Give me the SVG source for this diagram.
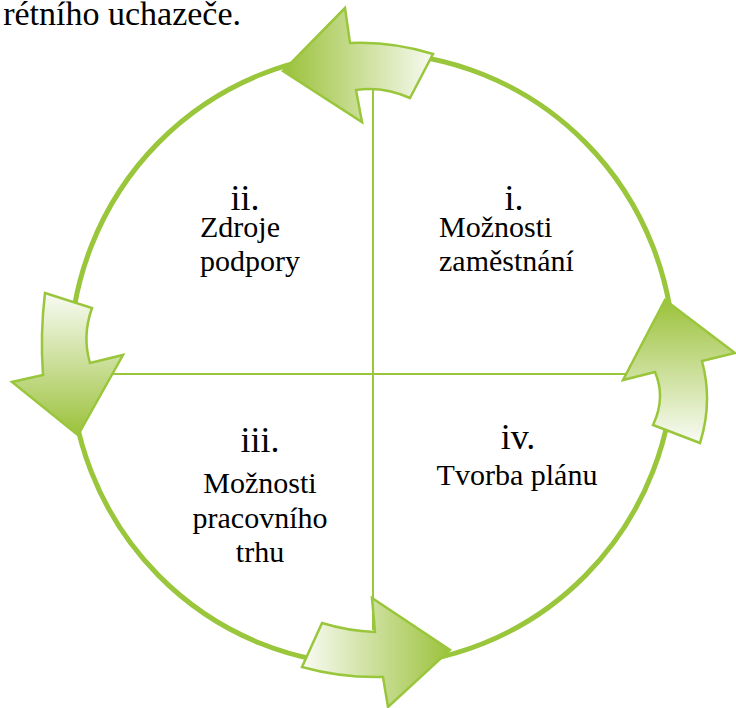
<svg xmlns="http://www.w3.org/2000/svg" width="736" height="708" viewBox="0 0 736 708">
<style>
.ring{fill:none;stroke:#9ac63c;stroke-width:5}
.ln{stroke:#9ac63c;stroke-width:2;fill:none}
.arr{stroke:#9ac63c;stroke-width:2.5;stroke-linejoin:miter}
text{fill:#000}
.num{font-size:36px}
.lab{font-size:30px}
</style>
<defs>
<linearGradient id="gTop" gradientUnits="userSpaceOnUse" x1="433" y1="60" x2="290" y2="60"><stop offset="0" stop-color="#f7faf1"/><stop offset="1" stop-color="#9fc442"/></linearGradient>
<linearGradient id="gLeft" gradientUnits="userSpaceOnUse" x1="70" y1="295" x2="70" y2="430"><stop offset="0" stop-color="#f7faf1"/><stop offset="1" stop-color="#9fc442"/></linearGradient>
<linearGradient id="gRight" gradientUnits="userSpaceOnUse" x1="680" y1="440" x2="680" y2="305"><stop offset="0" stop-color="#f7faf1"/><stop offset="1" stop-color="#9fc442"/></linearGradient>
<linearGradient id="gBottom" gradientUnits="userSpaceOnUse" x1="305" y1="650" x2="445" y2="650"><stop offset="0" stop-color="#f7faf1"/><stop offset="1" stop-color="#9fc442"/></linearGradient>
</defs>
<g font-family="'Liberation Serif', 'Times New Roman', serif">
<text x="241" y="25" font-size="34" text-anchor="end">rétního uchazeče.</text>
</g>
<g id="connectors">
<ellipse class="ring" cx="372" cy="359" rx="302" ry="306"/>
<line class="ln" x1="373" y1="80" x2="373" y2="630"/>
<line class="ln" x1="100" y1="374" x2="640" y2="374"/>
<path id="arrow-top" class="arr" fill="url(#gTop)" d="M433,54 Q391,41 350,43 L345,8 L283,71 L362,122 L356,90 Q383,86 410,98 Z"/>
<path id="arrow-left" class="arr" fill="url(#gLeft)" d="M45,293 L92,308 Q82,336 90,363 L123,355 L78,435 L12,382 L43,375 Q40,334 45,293 Z"/>
<path id="arrow-right" class="arr" fill="url(#gRight)" d="M653,425 L700,443 Q713,402 702,361 L735,353 L665,300 L623,380 L655,372 Q666,398 653,425 Z"/>
<path id="arrow-bottom" class="arr" fill="url(#gBottom)" d="M322,623 Q348,631 375,632 L372,598 L450,650 L388,707 L383,677 Q341,678 302,667 Z"/>
</g>
<g id="node-i" font-family="'Liberation Serif', 'Times New Roman', serif">
<text class="num" x="514" y="210" text-anchor="middle">i.</text>
<text class="lab" x="439" y="237">Možnosti</text>
<text class="lab" x="439" y="271">zaměstnání</text>
</g>
<g id="node-ii" font-family="'Liberation Serif', 'Times New Roman', serif">
<text class="num" x="245" y="210" text-anchor="middle">ii.</text>
<text class="lab" x="200" y="237">Zdroje</text>
<text class="lab" x="200" y="271">podpory</text>
</g>
<g id="node-iii" font-family="'Liberation Serif', 'Times New Roman', serif">
<text class="num" x="260" y="452" text-anchor="middle">iii.</text>
<text class="lab" x="260" y="493" text-anchor="middle">Možnosti</text>
<text class="lab" x="260" y="528" text-anchor="middle">pracovního</text>
<text class="lab" x="260" y="562" text-anchor="middle">trhu</text>
</g>
<g id="node-iv" font-family="'Liberation Serif', 'Times New Roman', serif">
<text class="num" x="518" y="449" text-anchor="middle">iv.</text>
<text class="lab" x="517" y="485" text-anchor="middle">Tvorba plánu</text>
</g>
</svg>
